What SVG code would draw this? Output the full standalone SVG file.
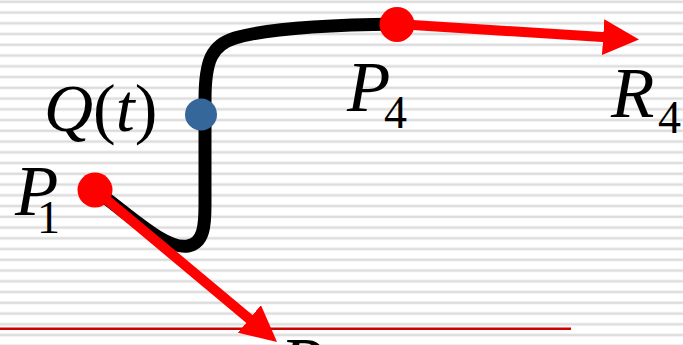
<svg xmlns="http://www.w3.org/2000/svg" width="683" height="345" viewBox="0 0 683 345">
<style>
.lbl{font-family:"Liberation Serif","Times New Roman",serif;fill:#000}
.it{font-style:italic}
.main{font-size:68px}
.big{font-size:71px}
.sub{font-size:46px}
.vec{stroke:#ff0000;stroke-width:10;fill:none}
.curve{stroke:#000;stroke-width:13;fill:none;stroke-linecap:round;stroke-linejoin:round}
</style>
<defs>
<pattern id="stripes" x="0" y="0" width="683" height="10.75" patternUnits="userSpaceOnUse">
<rect x="0" y="0" width="683" height="10.75" fill="#ffffff"/>
<rect x="0" y="0.3" width="683" height="3" fill="#ececec"/>
<rect x="0" y="0.9" width="683" height="1.8" fill="#dcdcdc"/>
</pattern>
<marker id="head" viewBox="0 -18 36 36" refX="3" refY="0" markerWidth="36" markerHeight="36" markerUnits="userSpaceOnUse" orient="auto">
<path d="M0,-18 L36,0 L0,18 Z" fill="#ff0000"/>
</marker>
</defs>
<rect x="0" y="0" width="683" height="345" fill="url(#stripes)"/>
<line x1="0" y1="328.7" x2="571" y2="328.7" stroke="#cc0000" stroke-width="2.5"/>
<g id="curve">
<path class="curve" d="M95,190 C130,215 165,250 188,246 C204,243 205,225 205,205 L205,100 C205,60 212,45 235,38 C265,29 320,25 397,24"/>
</g>
<g id="connectors">
<line class="vec" x1="95" y1="190" x2="251.7" y2="320.8" marker-end="url(#head)"/>
<line class="vec" x1="397" y1="24" x2="606.1" y2="37.3" marker-end="url(#head)"/>
</g>
<g id="P1">
<circle cx="95" cy="190" r="17.5" fill="#ff0000"/>
<text class="lbl big it" x="15" y="215">P</text>
<text class="lbl sub" x="37" y="233">1</text>
</g>
<g id="P4">
<circle cx="397" cy="24.5" r="17.5" fill="#ff0000"/>
<text class="lbl big it" x="347" y="111">P</text>
<text class="lbl sub" x="384" y="128">4</text>
</g>
<g id="R4">
<text class="lbl big it" x="611" y="117">R</text>
<text class="lbl sub" x="658" y="133">4</text>
</g>
<g id="Q">
<circle cx="201" cy="114.5" r="16" fill="#35679a"/>
<text class="lbl main" x="44" y="131"><tspan class="it">Q</tspan>(<tspan class="it">t</tspan>)</text>
</g>
<g id="R1">
<text class="lbl big it" x="280" y="387">R</text>
</g>
</svg>
